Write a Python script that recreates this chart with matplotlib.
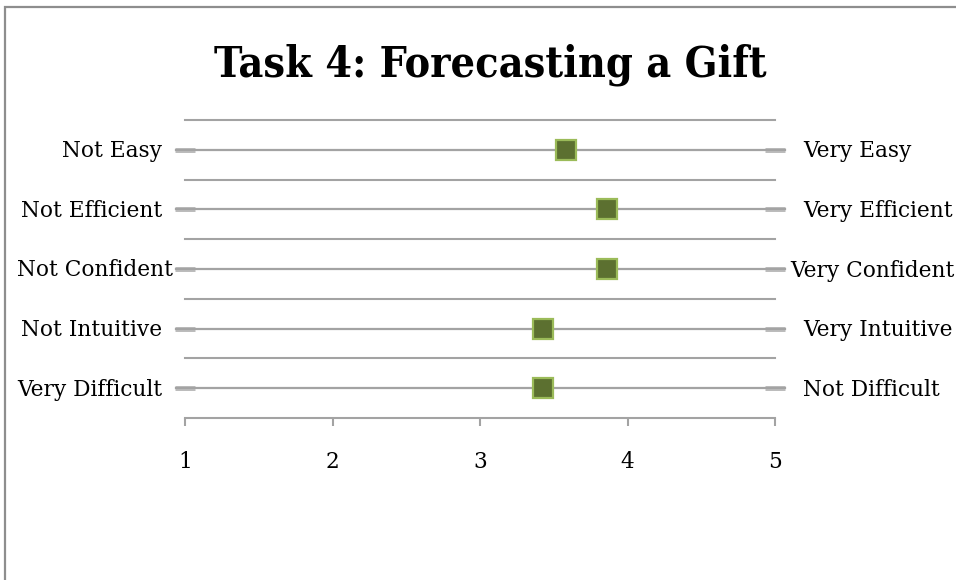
import matplotlib
matplotlib.use("Agg")
import matplotlib.pyplot as plt
from matplotlib.patches import Rectangle

# Survey ratings on a 1-5 scale, one row per question (top to bottom)
low_labels = ["Not Easy", "Not Efficient", "Not Confident", "Not Intuitive", "Very Difficult"]
high_labels = ["Very Easy", "Very Efficient", "Very Confident", "Very Intuitive", "Not Difficult"]
scores = [3.58, 3.86, 3.86, 3.43, 3.43]
scale_ticks = [1, 2, 3, 4, 5]
title = "Task 4: Forecasting a Gift"

W, H, DPI = 956, 580, 100
fig = plt.figure(figsize=(W / DPI, H / DPI), dpi=DPI)

TEXT_FONT = ["DejaVu Serif"]
LABEL_SIZE = 15.6
LINE_GRAY = "#a3a3a3"
CAP_GRAY = "#bcbcbc"
MARK_FACE = "#5c7030"
MARK_EDGE = "#9bbb59"

# chart frame (outer border of the chart area)
fig.patches.append(Rectangle((5 / W, -0.1), 1.2, (H - 7) / H + 0.1,
                             transform=fig.transFigure, fill=False,
                             edgecolor="#8e8e8e", linewidth=1.6))

# plot area in pixel bounds
left_px, right_px, top_px, bottom_px = 185, 775, 120, 418
ax = fig.add_axes([left_px / W, 1 - bottom_px / H,
                   (right_px - left_px) / W, (bottom_px - top_px) / H])

n = len(scores)
ax.set_xlim(scale_ticks[0], scale_ticks[-1])
ax.set_ylim(0, n)
row_y = [n - i - 0.5 for i in range(n)]

# separators between rows
for k in range(1, n + 1):
    ax.axhline(k, color=LINE_GRAY, linewidth=1.5, zorder=1, clip_on=False)

# row lines that run slightly past the plot area on both sides
ext = 9.5 / ((right_px - left_px) / (scale_ticks[-1] - scale_ticks[0]))
for y in row_y:
    ax.plot([scale_ticks[0] - ext, scale_ticks[-1] + ext], [y, y],
            color=LINE_GRAY, linewidth=1.6, clip_on=False, zorder=2)

ax.plot(scores, row_y, linestyle="none", marker="s", markersize=14.5,
        markerfacecolor=MARK_FACE, markeredgecolor=MARK_EDGE,
        markeredgewidth=1.6, clip_on=False, zorder=4)

for side in ("top", "left", "right"):
    ax.spines[side].set_visible(False)
ax.spines["bottom"].set_color(LINE_GRAY)
ax.spines["bottom"].set_linewidth(1.5)

ax.set_xticks(scale_ticks)
ax.set_xticklabels([str(t) for t in scale_ticks], family=TEXT_FONT,
                   fontsize=LABEL_SIZE)
ax.tick_params(axis="x", direction="out", length=6, width=1.5,
               color=LINE_GRAY, pad=18)

# thick crossing tick marks on both vertical sides, labels drawn separately
ax.set_yticks(row_y)
ax.set_yticklabels([])
ax.tick_params(axis="y", direction="inout", length=14.5, width=3.6,
               color=CAP_GRAY, left=True, right=True)

fig.text(490 / W, 1 - 77 / H, title, ha="center", va="baseline",
         family=["DejaVu Serif"], fontweight="bold", fontstretch="condensed",
         fontsize=30.8)

# side labels; a label too wide for its margin is pushed inward
fig.canvas.draw()
renderer = fig.canvas.get_renderer()
left_gap, right_gap = 23, 28
for lab_lo, lab_hi, y in zip(low_labels, high_labels, row_y):
    y_fig = (ax.transData.transform((0, y))[1] - 1.5) / H
    t = fig.text((left_px - left_gap) / W, y_fig, lab_lo, ha="right",
                 va="center", family=TEXT_FONT, fontsize=LABEL_SIZE)
    bb = t.get_window_extent(renderer)
    if bb.x0 < 17:
        t.set_ha("left")
        t.set_x(17 / W)
    t = fig.text((right_px + right_gap) / W, y_fig, lab_hi, ha="left",
                 va="center", family=TEXT_FONT, fontsize=LABEL_SIZE)
    bb = t.get_window_extent(renderer)
    if bb.x1 > W - 1:
        t.set_ha("right")
        t.set_x((W - 1) / W)

fig.savefig("out.png", dpi=DPI, facecolor="white")
